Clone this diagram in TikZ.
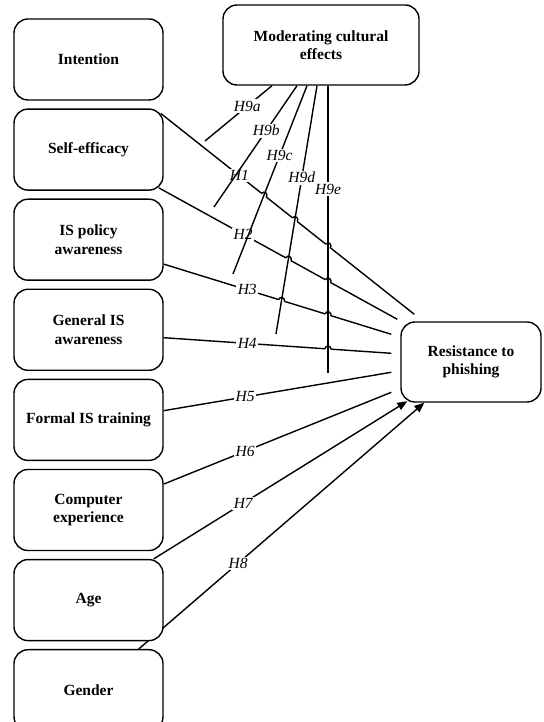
\documentclass[tikz,border=0pt]{standalone}
\usepackage{fontspec}
\setmainfont{Liberation Serif}
\usetikzlibrary{positioning, arrows.meta, intersections, backgrounds, calc}

% small bump where a hypothesis line passes a moderator line
\newcommand\hopover[3]{%
  \path[name intersections={of=#1 and #2, by=hp}];
  \fill[white] (hp) circle (3pt);
  \draw (hp) ++(#3+180:3pt) arc[start angle=#3+180, end angle=#3, radius=3pt];
}

\begin{document}
\begin{tikzpicture}[x=1pt, y=1pt, line width=1.4pt,
  box/.style={draw, fill=white, rounded corners=14pt, minimum width=149pt, minimum height=81pt,
    align=center, inner sep=2pt, font=\fontsize{15.5}{18.5}\selectfont\bfseries},
  hyp/.style={fill=white, inner sep=1.5pt, font=\fontsize{15.5}{18}\selectfont\itshape},
  tip/.style={-{Triangle[length=10pt,width=8pt]}}]
\useasboundingbox (0,0) rectangle (543,722);

\node[box] (int) at (88.5,662.5) {Intention};
\node[box, below=7.7pt of int] (se) {Self-efficacy};
\node[box, below=7.7pt of se] (pol) {IS policy\\awareness};
\node[box, below=7.7pt of pol] (gis) {General IS\\awareness};
\node[box, below=7.7pt of gis] (fit) {Formal IS training};
\node[box, below=7.7pt of fit] (ce) {Computer\\experience};
\node[box, below=7.7pt of ce] (age) {Age};
\node[box, below=7.7pt of age] (gen) {Gender};
\node[box, minimum width=196pt, minimum height=80pt] (mod) at (321,677) {Moderating cultural\\effects};
\node[box, minimum width=140pt, minimum height=80pt] (res) at (471,360) {Resistance to\\phishing};

% loose ends near the outcome box
\coordinate (e1) at ($(res.north west)+(14,7)$);
\coordinate (e2) at ($(res.north west)+(-3,2)$);
\coordinate (e3) at ($(res.north west)+(-9,-13)$);
\coordinate (e4) at ($(res.north west)+(-9,-32)$);
\coordinate (e5) at ($(res.north west)+(-9,-51)$);
\coordinate (e6) at ($(res.north west)+(-9,-71)$);
\coordinate (e7) at ($(res.south west)+(7,1.5)$);
\coordinate (e8) at ($(res.south west)+(24,0)$);
% loose ends of the moderator lines
\coordinate (m9a) at (205,581);
\coordinate (m9b) at (214,515);
\coordinate (m9c) at (233,448);
\coordinate (m9d) at (276,388);
\coordinate (m9e) at (328,349);

\begin{scope}[on background layer={line width=1.4pt}]
\draw[name path=h1] ($(se.north east)+(-3,-5)$) -- node[hyp, pos=0.31]{H1} (e1);
\draw[name path=h2] ($(se.south east)+(-5,3)$) -- node[hyp, pos=0.354]{H2} (e2);
\draw[name path=h3] (pol.-18) -- node[hyp, pos=0.367]{H3} (e3);
\draw[name path=h4] (gis.-6) -- node[hyp, pos=0.367]{H4} (e4);
\draw (fit.7) -- node[hyp, pos=0.358]{H5} (e5);
\draw (ce.19) -- node[hyp, pos=0.358]{H6} (e6);
\draw[tip] ($(age.north east)+(-10,0)$) -- node[hyp, pos=0.353]{H7} (e7);
\draw[tip] ($(gen.north east)+(-25,0)$) -- node[hyp, pos=0.348]{H8} (e8);

\path[name path=v9c] ([xshift=-14pt]mod.south) -- (m9c);
\path[name path=v9d] ([xshift=-4pt]mod.south) -- (m9d);
\path[name path=v9e] ([xshift=7pt]mod.south) -- (m9e);
\hopover{h1}{v9c}{-38.4}
\hopover{h1}{v9d}{-38.4}
\hopover{h1}{v9e}{-38.4}
\hopover{h2}{v9d}{-29.2}
\hopover{h2}{v9e}{-29.2}
\hopover{h3}{v9d}{-17.9}
\hopover{h3}{v9e}{-17.9}
\hopover{h4}{v9e}{-5.1}

\draw ([xshift=-49pt]mod.south) -- node[hyp, pos=0.37]{H9a} (m9a);
\draw ([xshift=-24pt]mod.south) -- node[hyp, pos=0.37]{H9b} (m9b);
\draw ([xshift=-14pt]mod.south) -- node[hyp, pos=0.37]{H9c} (m9c);
\draw ([xshift=-4pt]mod.south) -- node[hyp, pos=0.37]{H9d} (m9d);
\draw ([xshift=7pt]mod.south) -- node[hyp, pos=0.36]{H9e} (m9e);
\end{scope}
\end{tikzpicture}
\end{document}
